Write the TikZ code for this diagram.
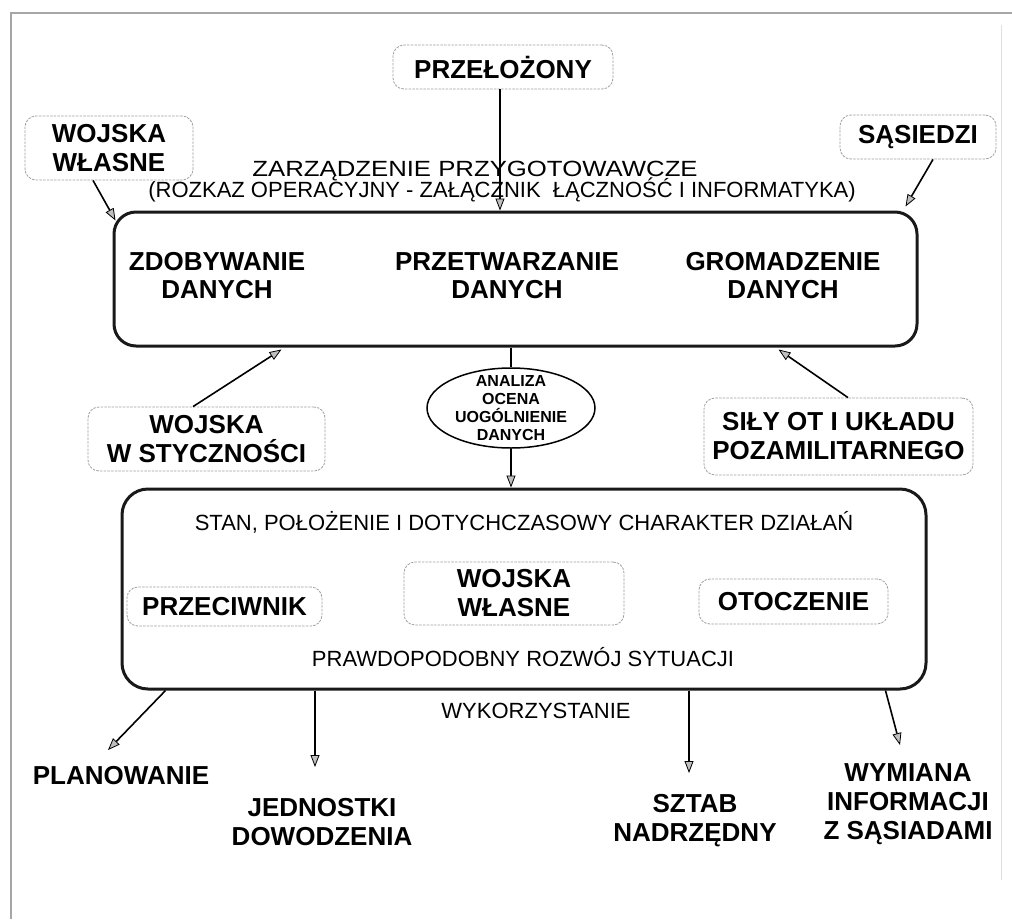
\documentclass[tikz,border=0pt]{standalone}
\usepackage{fontspec}
\setmainfont{Liberation Sans}
\usetikzlibrary{arrows.meta,shapes.geometric,calc}
\newcommand\labfont{\bfseries\fontsize{26}{29}\selectfont}
\newcommand\headfont{\bfseries\fontsize{26}{28}\selectfont}
\newcommand\txtfont{\fontsize{22}{22}\selectfont}
\newcommand\ellfont{\bfseries\fontsize{16}{18}\selectfont}
\begin{document}
\begin{tikzpicture}[x=1pt,y=-1pt,
  big/.style={draw=black!90, line width=3pt, rounded corners=22pt, inner sep=0pt},
  dbox/.style={draw=gray!75, line width=0.8pt, dash pattern=on 2.5pt off 1.2pt,
    rounded corners=11pt, inner sep=0pt, align=center, font=\labfont},
  head/.style={font=\headfont, align=center, inner sep=0pt},
  txt/.style={font=\txtfont, inner sep=0pt},
  outlab/.style={font=\labfont, align=center, inner sep=0pt},
  arr/.style={line width=1.6pt, -{Triangle[length=12pt,width=9pt,line width=0.8pt,fill=gray!50]}}]

\path[use as bounding box] (0,0) rectangle (1012,919);
% page frame
\draw[gray!70, line width=1.2pt] (11,919) -- (11,13) -- (1012,13);
\draw[gray!25, line width=0.8pt] (1001,25) -- (1001,880);

% sources
\node[dbox, minimum width=220pt, minimum height=44pt] (przel) at (503,67) {PRZEŁOŻONY};
\node[dbox, minimum width=168pt, minimum height=64pt] (ww) at (109,148) {WOJSKA\\WŁASNE};
\node[dbox, minimum width=156pt, minimum height=44pt] (sas) at (918,137) {SĄSIEDZI};

\node[txt, anchor=base] (zarz1) at (475,176) {\addfontfeatures{FakeStretch=1.17}ZARZĄDZENIE PRZYGOTOWAWCZE};
\node[txt, anchor=base] (zarz2) at (502,197) {(ROZKAZ OPERACYJNY - ZAŁĄCZNIK~ ŁĄCZNOŚĆ I INFORMATYKA)};

% data handling box
\node[big, minimum width=803pt, minimum height=134pt] (top) at (515.5,279) {};
\node[head] (zd) at (217,276) {ZDOBYWANIE\\DANYCH};
\node[head] (pr) at (507,276) {PRZETWARZANIE\\DANYCH};
\node[head] (gr) at (783,276) {GROMADZENIE\\DANYCH};

% analysis
\node[draw, ellipse, line width=1.5pt, minimum width=168pt, minimum height=80pt, inner sep=0pt] (ell) at (511,408) {};
\node[font=\ellfont, align=center, inner sep=0pt] (ellt) at (511,408) {ANALIZA\\OCENA\\UOGÓLNIENIE\\DANYCH};

\node[dbox, minimum width=237pt, minimum height=64pt] (wst) at (206.5,439) {WOJSKA\\W STYCZNOŚCI};
\node[dbox, minimum width=269pt, minimum height=77pt] (sily) at (838.5,436.5) {SIŁY OT I UKŁADU\\POZAMILITARNEGO};

% situation box
\node[big, rounded corners=26pt, minimum width=804pt, minimum height=200pt] (bot) at (524,589) {};
\node[txt, anchor=base] (stan) at (524,530) {STAN, POŁOŻENIE I DOTYCHCZASOWY CHARAKTER DZIAŁAŃ};
\node[dbox, minimum width=195pt, minimum height=39pt] (przec) at (224.5,606.5) {PRZECIWNIK};
\node[dbox, minimum width=220pt, minimum height=63pt] (wwl) at (514,593.5) {WOJSKA\\WŁASNE};
\node[dbox, minimum width=189pt, minimum height=45pt] (otocz) at (793.5,601.5) {OTOCZENIE};
\node[txt, anchor=base] (praw) at (523,666) {PRAWDOPODOBNY ROZWÓJ SYTUACJI};
\node[txt, anchor=base] (wyk) at (536,718) {WYKORZYSTANIE};

% uses
\node[outlab, anchor=north] (plan) at (121,766) {PLANOWANIE};
\node[outlab, anchor=north] (jed) at (322,798) {JEDNOSTKI\\DOWODZENIA};
\node[outlab, anchor=north] (szt) at (695,794) {SZTAB\\NADRZĘDNY};
\node[outlab, anchor=north] (wym) at (908,763) {WYMIANA\\INFORMACJI\\Z SĄSIADAMI};

% connectors
\draw[arr] ([xshift=-3pt]przel.south) -- ([xshift=-3pt]przel.south |- top.north);
\draw[arr] ([xshift=-16pt]ww.south) -- ([xshift=3pt,yshift=-10pt]top.north west);
\draw[arr] ([xshift=15pt]sas.south) -- ([xshift=-13pt,yshift=4pt]top.north east);
\draw[arr] ([xshift=-13.5pt]wst.north) -- ([xshift=169pt,yshift=-2pt]top.south west);
\draw[arr] ([xshift=9.5pt]sily.north) -- ([xshift=-140pt,yshift=-2pt]top.south east);
\draw[line width=1.8pt] (ell.north |- top.south) -- (ell.north);
\draw[arr] (ell.south) -- (ell.south |- bot.north);
\draw[arr] ([xshift=45pt]bot.south west) -- ([xshift=-13pt,yshift=16pt]plan.north);
\draw[arr] ([xshift=-7pt]jed.north |- bot.south) -- ([xshift=-7pt,yshift=31pt]jed.north);
\draw[arr] ([xshift=-6pt]szt.north |- bot.south) -- ([xshift=-6pt,yshift=21pt]szt.north);
\draw[arr] ([xshift=-42pt]bot.south east) -- ([xshift=-8pt,yshift=18pt]wym.north);
\end{tikzpicture}
\end{document}
